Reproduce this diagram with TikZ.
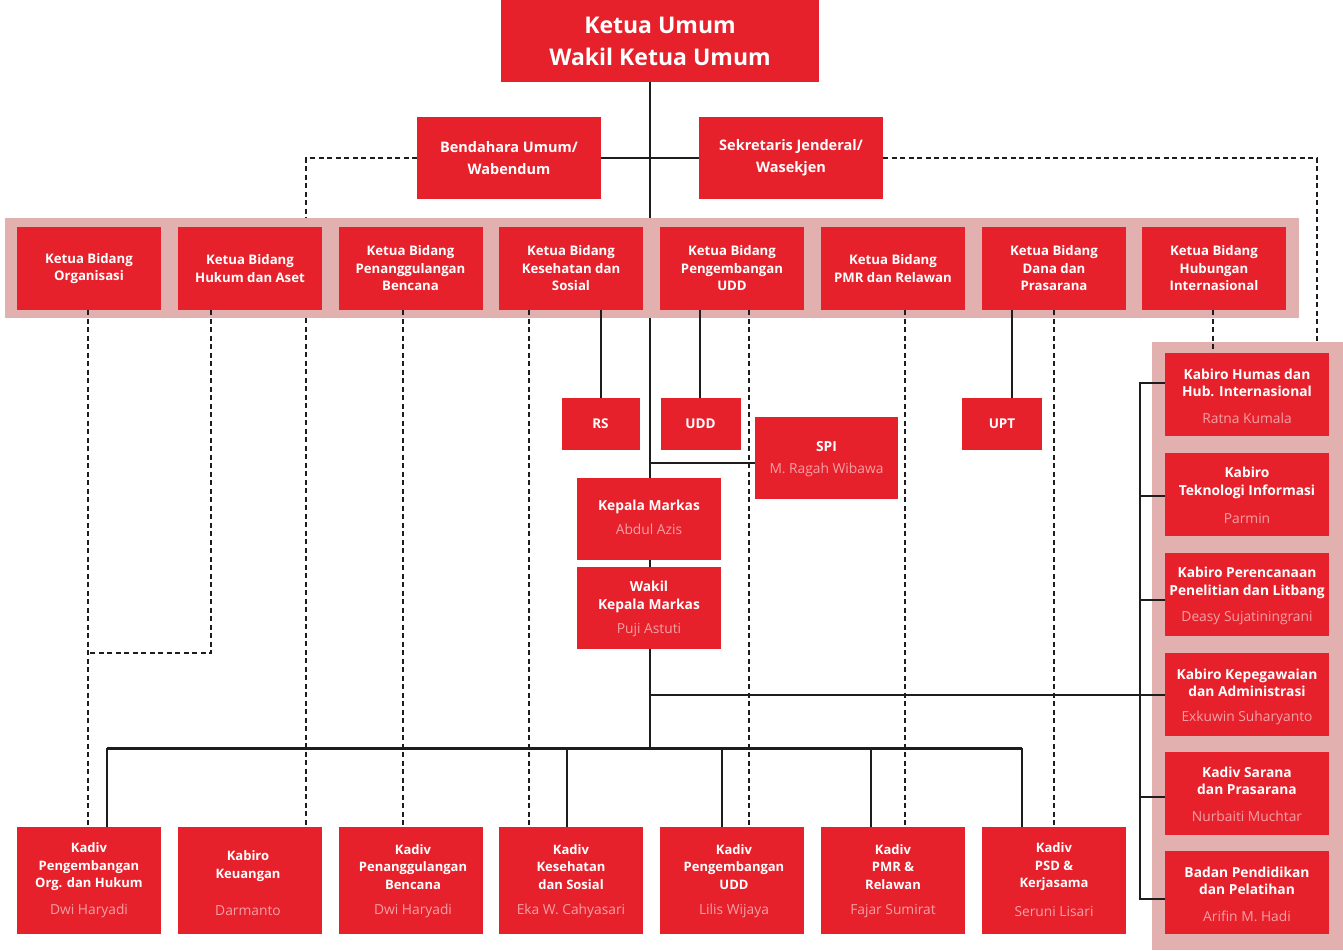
\documentclass[tikz,border=0pt]{standalone}
\usepackage{fontspec}
\setmainfont{Open Sans}
\usetikzlibrary{calc}
\definecolor{pmired}{RGB}{230,33,43}
\definecolor{bandpink}{RGB}{227,176,176}
\definecolor{namepink}{RGB}{245,160,166}
\definecolor{linec}{RGB}{30,28,29}
\tikzset{
  rbox/.style={fill=pmired, draw=none, inner sep=0pt, text=white, align=center},
  kbbox/.style={rbox, minimum width=144pt, minimum height=83pt, font=\fontsize{13.2}{17.5}\selectfont\bfseries},
  botbox/.style={rbox, minimum width=144pt, minimum height=107pt},
  rtbox/.style={rbox, minimum width=164pt, minimum height=83pt},
  ttl/.style={text=white, align=center, inner sep=0pt, font=\fontsize{13}{17.5}\selectfont\bfseries},
  rttl/.style={ttl, font=\fontsize{13.8}{17.5}\selectfont\bfseries},
  nm/.style={text=namepink, align=center, inner sep=0pt, font=\fontsize{13.8}{15}\selectfont},
  sol/.style={draw=linec, line width=2pt},
  busline/.style={draw=linec, line width=3pt},
  dsh/.style={draw=linec, line width=2pt, dash pattern=on 5pt off 3.5pt}
}
\begin{document}
\begin{tikzpicture}[x=1pt,y=-1pt]
\useasboundingbox (0,0) rectangle (1343,950);
% backgrounds
\fill[bandpink] (5,218) rectangle (1299,318);
\fill[bandpink] (1152,342) rectangle (1343,950);
\coordinate (rpN) at (1247,342);
% coordinates for connector positions
\coordinate (tx) at (649.5,0);
\coordinate (busL) at (107,748);
\coordinate (busR) at (1021.5,748);
\coordinate (c88) at (88,0);
\coordinate (c211) at (211,0);
\coordinate (c306) at (306,0);
\coordinate (c403) at (403,0);
\coordinate (c528) at (528.5,0);
\coordinate (c600) at (600.5,0);
\coordinate (c699) at (699.5,0);
\coordinate (c748) at (748.5,0);
\coordinate (c905) at (905,0);
\coordinate (c1012) at (1012,0);
\coordinate (c1054) at (1054,0);
\coordinate (c1213) at (1213,0);
\coordinate (c1317) at (1317,0);
\coordinate (bx) at (1140,0);
\coordinate (j653) at (88,653);
\coordinate (j462) at (649.5,462.5);
\coordinate (j695) at (649.5,695);
\coordinate (top) at (0,218);
\coordinate (bot) at (0,318);

% ---------- connectors ----------
\draw[sol] (tx |- 0,82) -- (tx |- top);
\draw[sol] (tx |- bot) -- (busL -| tx);
\draw[sol] (601,158) -- (699,158);
\draw[dsh] (417,158) -| (c306 |- top);
\draw[dsh] (883,158) -| (c1317 |- rpN);
\draw[dsh] (c88 |- 0,310) -- (c88 |- 0,827);
\draw[dsh] (c211 |- 0,310) |- (j653);
\draw[dsh] (c306 |- bot) -- (c306 |- 0,827);
\draw[dsh] (c403 |- 0,310) -- (c403 |- 0,827);
\draw[dsh] (c528 |- 0,310) -- (c528 |- 0,827);
\draw[sol] (c600 |- 0,310) -- (c600 |- 0,398);
\draw[sol] (c699 |- 0,310) -- (c699 |- 0,398);
\draw[dsh] (c748 |- 0,310) -- (c748 |- 0,827);
\draw[dsh] (c905 |- 0,310) -- (c905 |- 0,827);
\draw[sol] (c1012 |- 0,310) -- (c1012 |- 0,398);
\draw[dsh] (c1054 |- 0,310) -- (c1054 |- 0,827);
\draw[dsh] (c1213 |- 0,310) -- (c1213 |- 0,353);
\draw[sol] (j462) -- (755,462.5);
\draw[sol] (j695) -- (bx |- j695);
\draw[line width=2.2pt, draw=linec] (1165,383) -| (bx |- 0,899) -- (1165,899);
\draw[line width=2.2pt, draw=linec] (bx |- 0,496) -- (1165,496);
\draw[line width=2.2pt, draw=linec] (bx |- 0,600) -- (1165,600);
\draw[line width=2.2pt, draw=linec] (bx |- 0,695) -- (1165,695);
\draw[line width=2.2pt, draw=linec] (bx |- 0,797) -- (1165,797);
\draw[busline] (busL) -- (busR);
\draw[sol] (busL) -- (107,827);
\draw[sol] (566.5,748) -- (566.5,827);
\draw[sol] (722,748) -- (722,827);
\draw[sol] (870.5,748) -- (870.5,827);
\draw[sol] (busR) -- (1021.5,827);

% ---------- top ----------
\node[rbox, minimum width=318pt, minimum height=82pt, font=\fontsize{23}{32}\selectfont\bfseries] (ku) at (660,41) {Ketua Umum\\Wakil Ketua Umum};
\node[rbox, minimum width=184pt, minimum height=82pt, font=\fontsize{14.5}{22}\selectfont\bfseries] (bend) at (509,158) {Bendahara Umum/\\Wabendum};
\node[rbox, minimum width=184pt, minimum height=82pt, font=\fontsize{14.5}{22}\selectfont\bfseries] (sek) at (791,158) {Sekretaris Jenderal/\\Wasekjen};

% ---------- Ketua Bidang row ----------
\node[kbbox] (kb1) at (89,268.5) {Ketua Bidang\\Organisasi};
\node[kbbox] (kb2) at (250,268.5) {Ketua Bidang\\Hukum dan Aset};
\node[kbbox] (kb3) at (410.5,268.5) {Ketua Bidang\\Penanggulangan\\Bencana};
\node[kbbox] (kb4) at (571,268.5) {Ketua Bidang\\Kesehatan dan\\Sosial};
\node[kbbox] (kb5) at (732,268.5) {Ketua Bidang\\Pengembangan\\UDD};
\node[kbbox] (kb6) at (893,268.5) {Ketua Bidang\\PMR dan Relawan};
\node[kbbox] (kb7) at (1054,268.5) {Ketua Bidang\\Dana dan\\Prasarana};
\node[kbbox] (kb8) at (1214,268.5) {Ketua Bidang\\Hubungan\\Internasional};

% ---------- middle ----------
\node[rbox, minimum width=78pt, minimum height=52pt, font=\fontsize{13.5}{15}\selectfont\bfseries] (rs) at (600.5,424) {RS};
\node[rbox, minimum width=80pt, minimum height=52pt, font=\fontsize{13.5}{15}\selectfont\bfseries] (udd) at (700.5,424) {UDD};
\node[rbox, minimum width=80pt, minimum height=52pt, font=\fontsize{13.5}{15}\selectfont\bfseries] (upt) at (1002,424) {UPT};
\node[rbox, minimum width=143pt, minimum height=82pt] (spi) at (826.5,458) {};
\node[rttl] (spiT) at (826.5,447) {SPI};
\node[nm] (spiN) at (826.5,469.5) {M. Ragah Wibawa};
\node[rbox, minimum width=144pt, minimum height=82pt] (km) at (649,519) {};
\node[rttl] (kmT) at (649,507) {Kepala Markas};
\node[nm] (kmN) at (649,529) {Abdul Azis};
\node[rbox, minimum width=144pt, minimum height=82pt] (wkm) at (649,607.5) {};
\node[rttl] (wkmT) at (649,597) {Wakil\\Kepala Markas};
\node[nm] (wkmN) at (649,630) {Puji Astuti};

% ---------- right panel ----------
\node[rtbox] (r1) at (1247,394.5) {};
\node[rttl] (r1T) at (1247,383) {Kabiro Humas dan\\Hub. Internasional};
\node[nm] (r1N) at (1247,418) {Ratna Kumala};
\node[rtbox] (r2) at (1247,494.5) {};
\node[rttl] (r2T) at (1247,483) {Kabiro\\Teknologi Informasi};
\node[nm] (r2N) at (1247,518) {Parmin};
\node[rtbox] (r3) at (1247,594.5) {};
\node[rttl] (r3T) at (1247,583) {Kabiro Perencanaan\\Penelitian dan Litbang};
\node[nm] (r3N) at (1247,618) {Deasy Sujatiningrani};
\node[rtbox] (r4) at (1247,694.5) {};
\node[rttl] (r4T) at (1247,683) {Kabiro Kepegawaian\\dan Administrasi};
\node[nm] (r4N) at (1247,718) {Exkuwin Suharyanto};
\node[rtbox] (r5) at (1247,793.5) {};
\node[rttl] (r5T) at (1247,781) {Kadiv Sarana\\dan Prasarana};
\node[nm] (r5N) at (1247,816) {Nurbaiti Muchtar};
\node[rtbox] (r6) at (1247,892.5) {};
\node[rttl] (r6T) at (1247,881) {Badan Pendidikan\\dan Pelatihan};
\node[nm] (r6N) at (1247,916) {Arifin M. Hadi};

% ---------- bottom row ----------
\node[botbox] (bd1) at (89,880.5) {};
\node[ttl] (bd1T) at (89,867) {Kadiv\\Pengembangan\\Org. dan Hukum};
\node[nm] (bd1N) at (89,911) {Dwi Haryadi};
\node[botbox] (bd2) at (250,880.5) {};
\node[ttl] (bd2T) at (248,866) {Kabiro\\Keuangan};
\node[nm] (bd2N) at (248,911) {Darmanto};
\node[botbox] (bd3) at (410.5,880.5) {};
\node[ttl] (bd3T) at (413,867) {Kadiv\\Penanggulangan\\Bencana};
\node[nm] (bd3N) at (413,911) {Dwi Haryadi};
\node[botbox] (bd4) at (571,880.5) {};
\node[ttl] (bd4T) at (571,867) {Kadiv\\Kesehatan\\dan Sosial};
\node[nm] (bd4N) at (571,911) {Eka W. Cahyasari};
\node[botbox] (bd5) at (732,880.5) {};
\node[ttl] (bd5T) at (734,867) {Kadiv\\Pengembangan\\UDD};
\node[nm] (bd5N) at (734,911) {Lilis Wijaya};
\node[botbox] (bd6) at (893,880.5) {};
\node[ttl] (bd6T) at (893,867) {Kadiv\\PMR \&\\Relawan};
\node[nm] (bd6N) at (893,911) {Fajar Sumirat};
\node[botbox] (bd7) at (1054,880.5) {};
\node[ttl] (bd7T) at (1054,867) {Kadiv\\PSD \&\\Kerjasama};
\node[nm] (bd7N) at (1054,911) {Seruni Lisari};
\end{tikzpicture}
\end{document}
